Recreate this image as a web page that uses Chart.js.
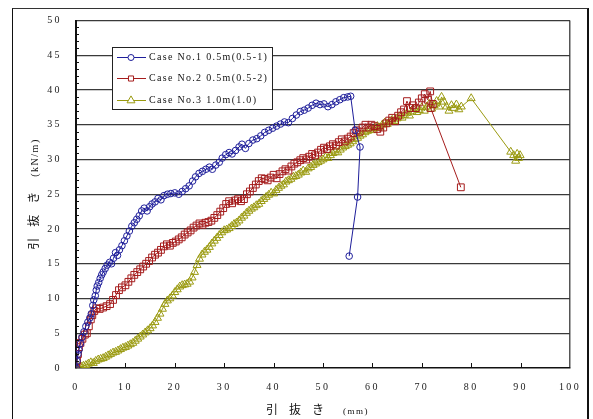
<!DOCTYPE html>
<html>
<head>
<meta charset="utf-8">
<script src="https://cdn.jsdelivr.net/npm/chart.js@4.4.0/dist/chart.umd.min.js"></script>
<style>
  html, body { margin: 0; padding: 0; background: #fff; }
  #wrap { position: relative; width: 593px; height: 419px; overflow: hidden; }
  #frame { position: absolute; left: 12px; top: 8px; width: 574px; height: 430px;
           border-left: 1.5px solid #111; border-top: 1.5px solid #333; border-right: 2px solid #111;
           pointer-events: none; }
  .ytitle { position: absolute; left: 33px; top: 194px; transform: translate(-50%, -50%) rotate(-90deg);
            white-space: nowrap; color: #111; }
  .xtitle { position: absolute; left: 266px; top: 400px; white-space: nowrap; color: #111; }
  .jp { font-family: "Noto Sans CJK JP", sans-serif; font-size: 12px; letter-spacing: 11px; }
  .unit { font-family: "Liberation Serif", serif; font-size: 9px; letter-spacing: 1.5px; }
</style>
</head>
<body>
<div id="wrap">
  <canvas id="c" width="593" height="419"></canvas>
  <div id="frame"></div>
  <div class="ytitle"><span class="jp">引抜き</span> <span class="unit" style="font-size:10px">(kN/m)</span></div>
  <div class="xtitle"><span class="jp">引抜き</span>&nbsp;&nbsp;<span class="unit">(mm)</span></div>
</div>
<script>
// Case No.1 0.5m(0.5-1)
const case1X = [0,0.2,0.4,0.6,0.9,1.2,1.6,2.0,2.4,2.8,3.1,3.4,3.6,3.9,4.1,4.3,4.6,4.9,5.2,5.5,5.9,6.3,6.8,7.2,7.6,8.0,8.4,8.8,9.3,9.8,
  10.3,10.8,11.3,11.8,12.3,12.8,13.3,13.8,14.4,14.9,15.4,16.0,16.6,17.2,17.8,18.5,19.2,20.0,20.8,21.5,22.2,22.9,23.6,24.2,24.9,25.6,26.3,27.0,27.6,28.3,
  29.0,29.6,30.3,31.0,31.6,32.3,33.0,33.6,34.3,35.0,35.8,36.6,37.4,38.2,39.0,39.8,40.6,41.4,42.2,43.0,43.8,44.6,45.4,46.2,47.0,47.8,48.6,49.4,50.2,51.0,
  51.8,52.6,53.4,54.2,55.0,55.6,56.5,57.5,57.0,55.3];
const case1Y = [0,1.0,2.0,2.6,3.5,4.4,5.2,6.0,6.6,7.2,7.8,9.0,9.8,10.4,11.2,11.8,12.3,12.9,13.4,13.8,14.3,14.8,15.2,15.0,15.8,16.6,16.2,17.0,17.6,18.3,
  19.0,19.7,20.4,20.9,21.4,21.9,22.6,23.0,22.6,23.2,23.6,23.9,24.4,24.2,24.8,25.0,25.1,25.2,25.0,25.4,25.8,26.2,26.9,27.5,28.0,28.3,28.6,28.9,28.6,29.2,
  29.6,30.2,30.7,31.0,30.8,31.3,31.8,32.2,31.6,32.3,32.8,33.0,33.4,33.9,34.2,34.5,34.8,35.1,35.4,35.3,35.9,36.4,36.9,37.1,37.4,37.8,38.1,37.9,38.0,37.6,
  37.9,38.3,38.6,38.9,39.0,39.1,34.2,31.8,24.6,16.1];

// Case No.2 0.5m(0.5-2)
const case2X = [0,0.2,0.4,0.6,0.9,1.3,1.8,2.2,2.6,3.0,3.3,3.7,4.2,4.8,5.5,6.2,6.9,7.5,8.1,8.7,9.3,10.0,10.6,11.2,11.8,12.4,13.0,13.6,14.2,14.8,
  15.4,16.0,16.6,17.2,17.8,18.4,19.0,19.6,20.2,20.8,21.4,22.0,22.6,23.2,23.8,24.4,25.0,25.6,26.2,26.8,27.4,28.0,28.6,29.2,29.8,30.4,31.0,31.6,32.2,32.8,
  33.4,34.0,34.6,35.2,35.8,36.4,37.0,37.6,38.2,38.8,39.4,40.0,40.6,41.2,41.8,42.4,43.0,43.6,44.2,44.8,45.4,46.0,46.6,47.2,47.8,48.4,49.0,49.6,50.2,50.8,
  51.4,52.0,52.6,53.2,53.8,54.4,55.0,55.6,56.2,56.8,57.4,58.0,58.6,59.2,59.8,60.4,61.0,61.6,62.2,62.8,63.4,64.0,64.6,65.2,65.8,66.4,67.0,67.6,68.2,68.8,
  69.4,70.0,70.6,71.2,71.7,72.2,71.8,77.9];
const case2Y = [0,1.0,2.0,3.0,3.6,4.2,4.8,5.0,6.0,7.0,7.6,8.2,8.6,8.5,8.7,8.9,9.2,9.8,10.5,11.2,11.6,11.9,12.4,12.9,13.4,13.8,14.2,14.6,15.0,15.4,
  15.9,16.3,16.6,17.0,17.5,17.8,17.6,18.0,18.2,18.5,18.8,19.2,19.5,19.8,20.2,20.5,20.8,20.6,20.9,21.0,21.2,21.6,22.0,22.5,23.0,23.6,24.0,23.7,24.1,24.3,
  24.0,24.3,25.0,25.4,25.9,26.4,26.9,27.3,27.2,27.0,27.4,27.8,27.3,27.9,28.3,28.6,28.4,29.0,29.4,29.6,29.9,30.2,30.0,30.4,30.8,30.6,31.0,31.4,31.7,31.5,
  31.9,32.2,32.0,32.5,32.9,32.6,33.0,33.3,33.8,34.2,34.0,34.6,35.0,34.6,35.0,34.8,34.4,34.0,34.6,35.2,35.6,36.0,35.5,36.3,36.8,37.2,38.4,37.4,37.8,37.4,
  38.2,38.8,39.4,38.6,39.8,38.0,37.4,26.0];

// Case No.3 1.0m(1.0)
const case3X = [0,0.5,1.0,1.5,2.0,2.5,3.0,3.5,4.0,4.5,5.0,5.5,6.0,6.5,7.0,7.5,8.0,8.5,9.0,9.5,10.0,10.5,11.0,11.5,12.0,12.5,13.0,13.5,14.0,14.5,
  15.0,15.5,16.0,16.5,17.0,17.5,18.0,18.5,19.0,19.5,20.0,20.5,21.0,21.5,22.0,22.5,23.0,23.5,24.0,24.5,25.0,25.5,26.0,26.5,27.0,27.5,28.0,28.5,29.0,29.5,
  30.0,30.5,31.0,31.5,32.0,32.5,33.0,33.5,34.0,34.5,35.0,35.5,36.0,36.5,37.0,37.5,38.0,38.5,39.0,39.5,40.0,40.5,41.0,41.5,42.0,42.5,43.0,43.5,44.0,44.5,
  45.0,45.5,46.0,46.5,47.0,47.5,48.0,48.5,49.0,49.5,50.0,50.5,51.0,51.5,52.0,52.5,53.0,53.5,54.0,54.5,55.0,55.5,56.0,56.5,57.0,57.5,58.0,58.5,59.0,59.5,
  60.0,60.5,61.0,61.5,62.0,62.5,63.0,63.5,64.0,64.5,65.0,65.5,66.0,66.5,67.0,67.5,68.0,68.5,69.0,69.5,70.0,70.5,71.0,71.5,72.0,72.5,73.0,73.5,74.0,74.5,
  75.0,75.5,76.0,76.5,77.0,77.5,78.0,80.0,88.0,88.6,89.0,89.3,89.6,89.9];
const case3Y = [0,0.1,0.2,0.3,0.4,0.6,0.8,0.7,1.0,1.2,1.3,1.4,1.6,1.8,2.0,2.2,2.3,2.5,2.7,2.9,3.0,3.2,3.4,3.6,3.9,4.2,4.5,4.8,5.1,5.4,
  5.7,6.1,6.6,7.2,7.8,8.5,9.2,9.7,10.0,10.4,10.9,11.3,11.7,11.9,12.0,12.1,12.4,13.0,13.8,14.8,15.7,16.3,16.7,17.0,17.4,17.9,18.3,18.7,19.1,19.5,
  19.8,19.9,20.1,20.4,20.7,20.9,21.2,21.6,21.9,22.3,22.6,22.9,23.1,23.4,23.6,24.0,24.3,24.6,24.9,25.2,25.1,25.6,25.9,26.2,26.4,26.8,27.0,27.2,27.5,27.6,
  27.8,28.1,28.4,28.2,28.7,28.9,29.2,29.4,29.6,29.8,30.0,30.3,30.2,30.6,30.9,31.1,31.0,31.4,31.7,31.9,32.1,32.3,32.6,32.9,33.1,33.4,33.6,33.9,34.1,34.3,
  34.2,34.5,34.8,34.6,35.0,35.3,35.1,35.4,35.7,35.5,35.9,36.2,36.0,36.4,36.7,36.3,36.9,37.3,36.8,37.1,37.5,37.0,37.6,38.0,37.3,37.8,38.4,37.6,39.0,38.3,
  37.6,37.0,37.8,37.4,37.9,37.2,37.6,38.8,31.1,30.6,29.8,30.8,30.2,30.6];

const seriesLabels = ['Case No.1 0.5m(0.5-1)', 'Case No.2 0.5m(0.5-2)', 'Case No.3 1.0m(1.0)'];
const xTicks = [0, 10, 20, 30, 40, 50, 60, 70, 80, 90, 100];
const yTicks = [0, 5, 10, 15, 20, 25, 30, 35, 40, 45, 50];

const colors = ['#1e1e9a', '#a51c1c', '#9a9a10'];
const shapes = ['circle', 'rect', 'triangle'];
const radii = [3.3, 4.8, 4.6];
const legendRadii = [3, 3.6, 4.6];

function toPoints(xs, ys) {
  return xs.map((x, i) => ({ x: x, y: ys[i] }));
}

const datasets = [[case1X, case1Y], [case2X, case2Y], [case3X, case3Y]].map((s, i) => ({
  label: seriesLabels[i],
  data: toPoints(s[0], s[1]),
  showLine: true,
  borderColor: colors[i],
  backgroundColor: 'rgba(255,255,255,0)',
  borderWidth: 1,
  pointStyle: shapes[i],
  pointRadius: radii[i],
  pointBorderWidth: 1,
  pointBorderColor: colors[i],
  pointBackgroundColor: 'rgba(255,255,255,0)',
  tension: 0
}));

// spacing between letters like the original figure
const spacing = {
  id: 'spacing',
  beforeDraw(chart) { chart.ctx.letterSpacing = '2.4px'; }
};

// small inner ticks on the axes
const innerTicks = {
  id: 'innerTicks',
  afterDraw(chart) {
    const ctx = chart.ctx, x = chart.scales.x, y = chart.scales.y;
    ctx.save();
    ctx.strokeStyle = '#111';
    ctx.lineWidth = 1;
    for (let v = 1; v < 50; v++) {
      if (v % 5 === 0) continue;
      const py = Math.round(y.getPixelForValue(v)) + 0.5;
      ctx.beginPath(); ctx.moveTo(x.left, py); ctx.lineTo(x.left + 3, py); ctx.stroke();
    }
    xTicks.slice(1, -1).forEach(v => {
      const px = Math.round(x.getPixelForValue(v)) + 0.5;
      ctx.beginPath(); ctx.moveTo(px, y.bottom); ctx.lineTo(px, y.bottom - 5); ctx.stroke();
    });
    ctx.restore();
  }
};

// boxed legend inside the plot
const boxLegend = {
  id: 'boxLegend',
  afterDraw(chart) {
    const ctx = chart.ctx;
    const bx = 112, by = 47, bw = 160, bh = 62;
    ctx.save();
    ctx.fillStyle = '#fff';
    ctx.fillRect(bx, by, bw, bh);
    ctx.strokeStyle = '#222';
    ctx.lineWidth = 1;
    ctx.strokeRect(bx + 0.5, by + 0.5, bw, bh);
    const rows = [57, 78, 100];
    chart.data.datasets.forEach((ds, i) => {
      const ry = rows[i] + 0.5;
      ctx.strokeStyle = colors[i];
      ctx.lineWidth = 1;
      ctx.beginPath(); ctx.moveTo(117, ry); ctx.lineTo(146, ry); ctx.stroke();
      ctx.fillStyle = '#fff';
      Chart.helpers.drawPoint(ctx, { pointStyle: shapes[i], radius: legendRadii[i], borderWidth: 1, rotation: 0 }, 131, ry);
      ctx.fillStyle = '#111';
      ctx.font = "10px 'Liberation Serif', serif";
      ctx.letterSpacing = '1.3px';
      ctx.textBaseline = 'middle';
      ctx.textAlign = 'left';
      ctx.fillText(ds.label, 149, ry);
    });
    ctx.restore();
  }
};

Chart.defaults.font.family = "'Liberation Serif', serif";
Chart.defaults.font.size = 10;
Chart.defaults.color = '#222';

new Chart(document.getElementById('c'), {
  type: 'scatter',
  data: { datasets: datasets },
  options: {
    responsive: false,
    animation: false,
    layout: { padding: { left: 0, top: 20.5, right: 23, bottom: 0 } },
    plugins: { legend: { display: false }, tooltip: { enabled: false } },
    scales: {
      x: {
        type: 'linear', min: 0, max: 100,
        afterFit(s) { s.height = 51; },
        afterBuildTicks(s) { s.ticks = xTicks.map(v => ({ value: v })); },
        ticks: { padding: 13, autoSkip: false, maxRotation: 0 },
        grid: { drawTicks: false, color: c => (c.tick && c.tick.value === 100) ? '#555' : 'rgba(0,0,0,0)', lineWidth: 1.5 },
        border: { color: '#111', width: 1.5 }
      },
      y: {
        type: 'linear', min: 0, max: 50,
        afterFit(s) { s.width = 76; },
        afterBuildTicks(s) { s.ticks = yTicks.map(v => ({ value: v })); },
        ticks: { padding: 14, autoSkip: false },
        grid: { drawTicks: false, color: c => (c.tick && c.tick.value === 0) ? 'rgba(0,0,0,0)' : '#3a3a3a', lineWidth: 1.3 },
        border: { color: '#111', width: 2 }
      }
    }
  },
  plugins: [spacing, innerTicks, boxLegend]
});
</script>
</body>
</html>
